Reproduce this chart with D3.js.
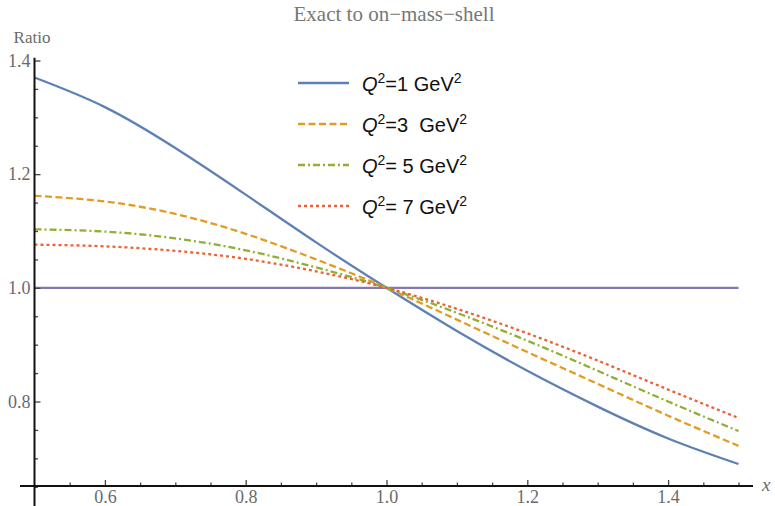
<!DOCTYPE html>
<html>
<head>
<meta charset="utf-8">
<script src="https://cdn.jsdelivr.net/npm/d3@7"></script>
<style>
  body { margin: 0; background: #fff; }
  .tick line { stroke: #444; stroke-width: 1.3; }
  .legend text { font-family: "Liberation Sans", Arial, sans-serif; font-size: 20px; fill: #111; white-space: pre; }
</style>
</head>
<body>
<div id="chart"></div>
<script>
// x positions and ratio values
var xValues = [0.5, 0.6, 0.7, 0.8, 0.9, 1.0, 1.1, 1.2, 1.3, 1.4, 1.5];
var q1 = [1.370, 1.318, 1.246, 1.164, 1.080, 1.000, 0.924, 0.854, 0.791, 0.735, 0.690];
var q3 = [1.162, 1.152, 1.130, 1.095, 1.050, 1.000, 0.944, 0.887, 0.831, 0.775, 0.722];
var q5 = [1.103, 1.099, 1.087, 1.066, 1.036, 1.000, 0.956, 0.907, 0.854, 0.800, 0.748];
var q7 = [1.076, 1.073, 1.065, 1.051, 1.029, 1.000, 0.963, 0.920, 0.872, 0.821, 0.771];
var refX = [0.5, 1.5];
var refY = [1.0, 1.0];

var labels = ["=1 GeV", "=3  GeV", "= 5 GeV", "= 7 GeV"];
var xMajor = [0.6, 0.8, 1.0, 1.2, 1.4];
var xMinor = [0.55, 0.65, 0.7, 0.75, 0.85, 0.9, 0.95, 1.05, 1.1, 1.15, 1.25, 1.3, 1.35, 1.45, 1.5];
var yMajor = [0.8, 1.0, 1.2, 1.4];
var yMinor = [0.65, 0.7, 0.75, 0.85, 0.9, 0.95, 1.05, 1.1, 1.15, 1.25, 1.3, 1.35];

function init() {
    var w = 775;
    var h = 506;
    var serif = "'Liberation Serif', 'Times New Roman', serif";

    var svg = d3.select("#chart")
        .append("svg")
        .attr("width", w)
        .attr("height", h);

    var xScale = d3.scaleLinear().domain([0.5, 1.5]).range([34.5, 738.5]);
    var yScale = d3.scaleLinear().domain([0.8, 1.4]).range([401.5, 60.5]);
    var axisY = 486;   // where the x axis crosses
    var axisX = xScale(0.5);

    var series = [
        { values: q1, color: "#5e81b5", dash: null },
        { values: q3, color: "#e19c24", dash: "7,3.5" },
        { values: q5, color: "#8fb032", dash: "7,3,2,3" },
        { values: q7, color: "#eb6235", dash: "3,3" }
    ];

    var line = d3.line()
        .x(d => xScale(d[0]))
        .y(d => yScale(d[1]))
        .curve(d3.curveNatural);

    // reference line at 1
    svg.append("path")
        .datum(d3.zip(refX, refY))
        .attr("d", line)
        .attr("fill", "none")
        .attr("stroke", "#8778b3")
        .attr("stroke-width", 2.2);

    series.forEach(function (s) {
        svg.append("path")
            .datum(d3.zip(xValues, s.values))
            .attr("d", line)
            .attr("fill", "none")
            .attr("stroke", s.color)
            .attr("stroke-width", 2.3)
            .attr("stroke-dasharray", s.dash);
    });

    function styleTicks(g) {
        g.select(".domain").remove();
        g.selectAll("text")
            .style("font-family", serif)
            .style("font-size", "18px")
            .attr("fill", "#6a6a6a");
    }

    // axes: minor ticks first, then major with labels
    svg.append("g")
        .attr("transform", "translate(0," + axisY + ")")
        .call(d3.axisBottom(xScale).tickValues(xMinor).tickFormat("").tickSizeInner(-3.5).tickSizeOuter(0))
        .call(styleTicks);

    svg.append("g")
        .attr("transform", "translate(0," + axisY + ")")
        .call(d3.axisBottom(xScale).tickValues(xMajor).tickFormat(d3.format(".1f")).tickSizeInner(-6).tickSizeOuter(0).tickPadding(4))
        .call(styleTicks);

    svg.append("g")
        .attr("transform", "translate(" + axisX + ",0)")
        .call(d3.axisLeft(yScale).tickValues(yMinor).tickFormat("").tickSizeInner(-3.5).tickSizeOuter(0))
        .call(styleTicks);

    svg.append("g")
        .attr("transform", "translate(" + axisX + ",0)")
        .call(d3.axisLeft(yScale).tickValues(yMajor).tickFormat(d3.format(".1f")).tickSizeInner(-6).tickSizeOuter(0).tickPadding(4))
        .call(styleTicks);

    // axis lines
    svg.append("line")
        .attr("x1", 20).attr("x2", 753)
        .attr("y1", axisY).attr("y2", axisY)
        .attr("stroke", "#111").attr("stroke-width", 2);

    svg.append("line")
        .attr("x1", axisX).attr("x2", axisX)
        .attr("y1", yScale(1.405)).attr("y2", h)
        .attr("stroke", "#111").attr("stroke-width", 2);

    // axis labels and title
    svg.append("text")
        .attr("x", 32).attr("y", 43)
        .attr("text-anchor", "middle")
        .style("font-family", serif)
        .style("font-size", "17px")
        .attr("fill", "#6a6a6a")
        .text("Ratio");

    svg.append("text")
        .attr("x", 762).attr("y", 491)
        .style("font-family", serif)
        .style("font-size", "19px")
        .style("font-style", "italic")
        .attr("fill", "#6a6a6a")
        .text("x");

    svg.append("text")
        .attr("x", 394).attr("y", 21)
        .attr("text-anchor", "middle")
        .style("font-family", serif)
        .style("font-size", "21px")
        .attr("fill", "#777")
        .text("Exact to on\u2212mass\u2212shell");

    // legend
    var legend = svg.append("g").attr("class", "legend");
    series.forEach(function (s, i) {
        var ly = 83 + i * 41;
        legend.append("line")
            .attr("x1", 298).attr("x2", 349)
            .attr("y1", ly).attr("y2", ly)
            .attr("stroke", s.color)
            .attr("stroke-width", 2.3)
            .attr("stroke-dasharray", s.dash);

        var t = legend.append("text")
            .attr("x", 362).attr("y", ly + 8);
        t.append("tspan").style("font-style", "italic").text("Q");
        t.append("tspan").attr("dy", -8).style("font-size", "14px").text("2");
        t.append("tspan").attr("dy", 8).text(labels[i]);
        t.append("tspan").attr("dy", -8).style("font-size", "14px").text("2");
    });
}

init();
</script>
</body>
</html>
